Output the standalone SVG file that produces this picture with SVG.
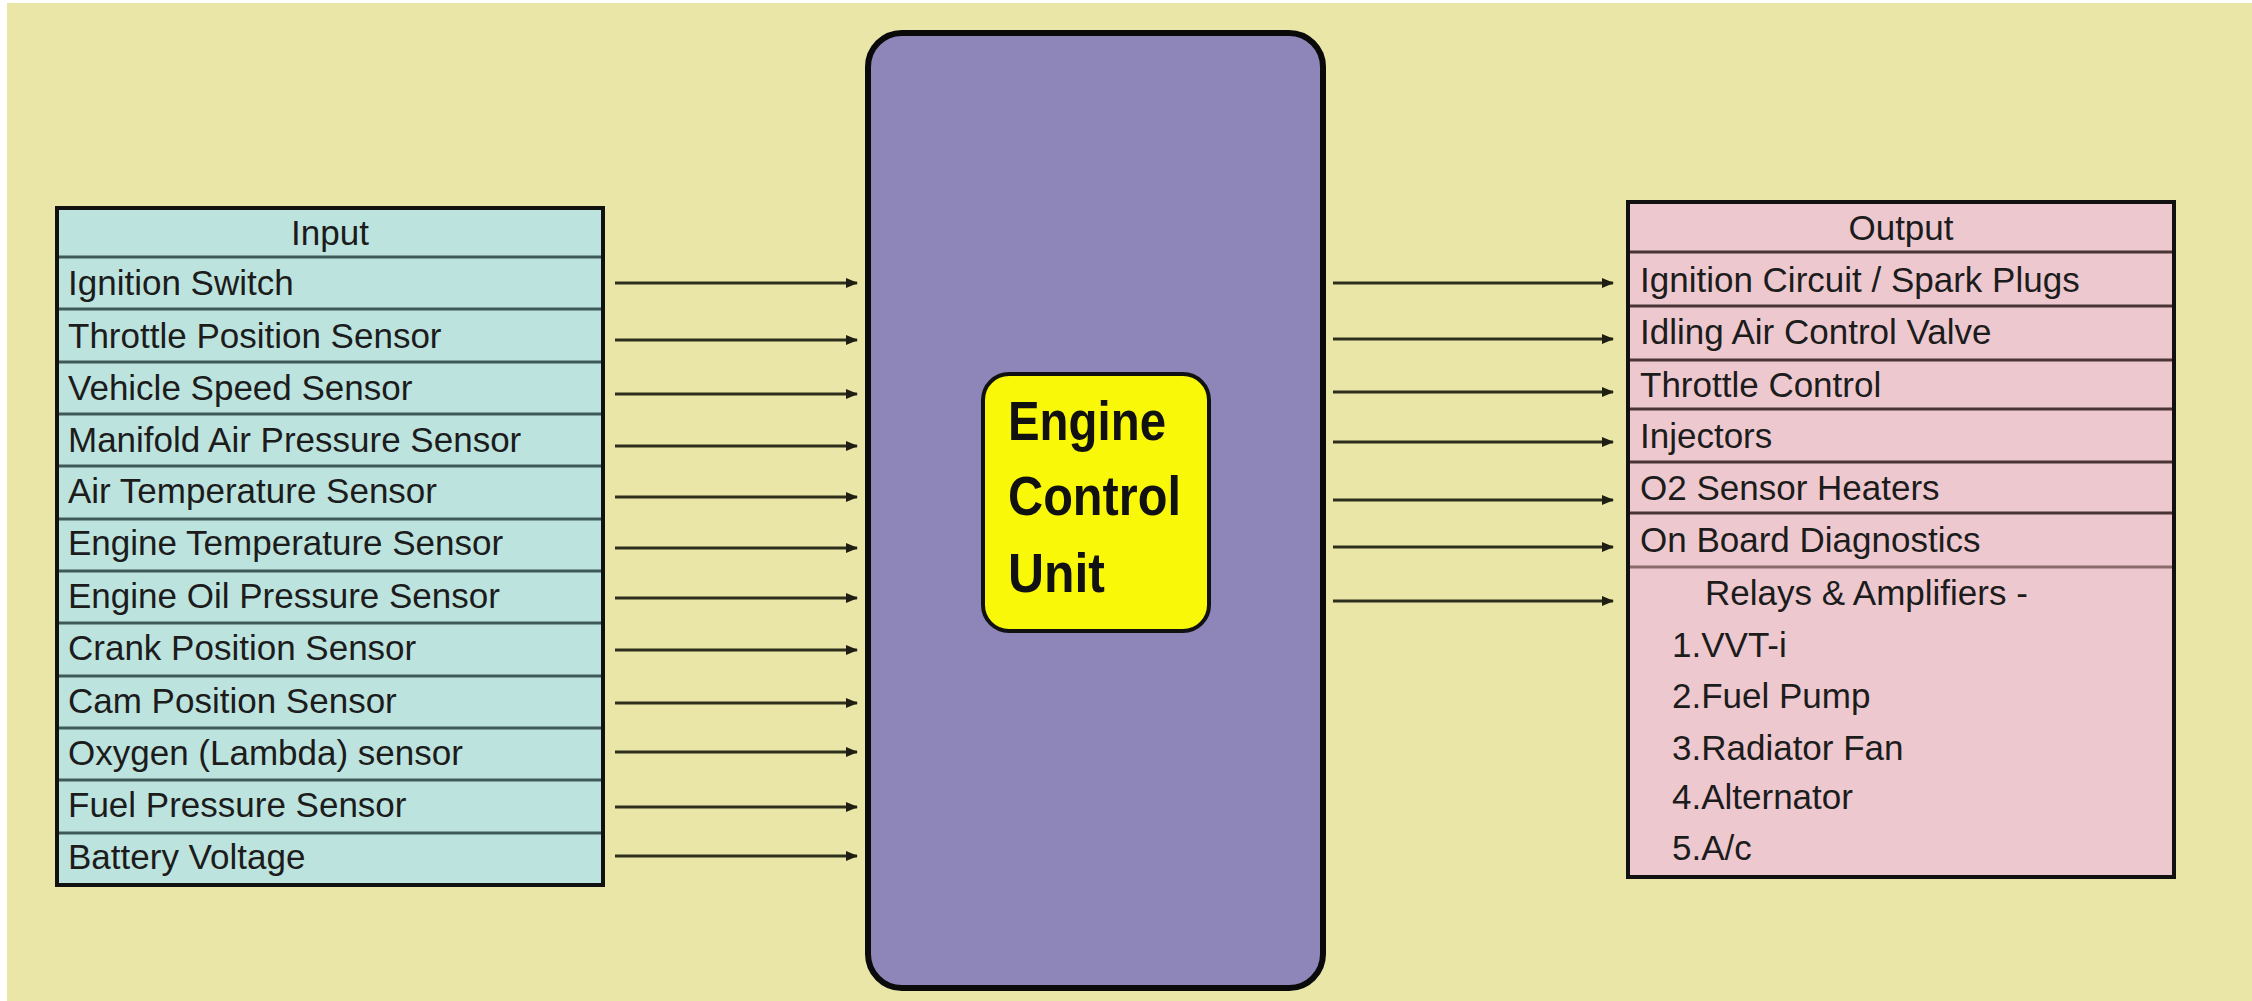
<svg xmlns="http://www.w3.org/2000/svg" width="2252" height="1001" viewBox="0 0 2252 1001">
  <style>
    .lbl { font-family: "Liberation Sans", Arial, sans-serif; font-size: 35px; fill: #1c1c1c; }
    .hdr { text-anchor: middle; }
    .ecu { font-family: "Liberation Sans", Arial, sans-serif; font-size: 55px; font-weight: bold; fill: #111; }
    .indiv { stroke: #3E5A58; stroke-width: 3; }
    .outdiv { stroke: #4A3434; stroke-width: 3; }
    .conn { stroke: #2E2E1C; stroke-width: 3; fill: none; marker-end: url(#arr); }
  </style>
  <defs>
    <marker id="arr" markerUnits="userSpaceOnUse" markerWidth="12" markerHeight="10" refX="11" refY="5" orient="auto">
      <path d="M0,0 L12,5 L0,10 z" fill="#1E1E12"/>
    </marker>
  </defs>

  <rect x="0" y="0" width="2252" height="1001" fill="#FFFFFF"/>
  <rect x="7" y="3" width="2245" height="998" fill="#E9E6A8"/>

  <g id="input">
    <rect x="57" y="208" width="546" height="677" fill="#BDE3DE" stroke="#111" stroke-width="4"/>
    <g class="indiv">
      <line x1="59" y1="257" x2="601" y2="257"/>
      <line x1="59" y1="309" x2="601" y2="309"/>
      <line x1="59" y1="362" x2="601" y2="362"/>
      <line x1="59" y1="414" x2="601" y2="414"/>
      <line x1="59" y1="466" x2="601" y2="466"/>
      <line x1="59" y1="519" x2="601" y2="519"/>
      <line x1="59" y1="571" x2="601" y2="571"/>
      <line x1="59" y1="623" x2="601" y2="623"/>
      <line x1="59" y1="676" x2="601" y2="676"/>
      <line x1="59" y1="728" x2="601" y2="728"/>
      <line x1="59" y1="780" x2="601" y2="780"/>
      <line x1="59" y1="833" x2="601" y2="833"/>
    </g>
    <text class="lbl hdr" x="330" y="245">Input</text>
    <text class="lbl" x="68" y="295">Ignition Switch</text>
    <text class="lbl" x="68" y="348">Throttle Position Sensor</text>
    <text class="lbl" x="68" y="400">Vehicle Speed Sensor</text>
    <text class="lbl" x="68" y="452">Manifold Air Pressure Sensor</text>
    <text class="lbl" x="68" y="503">Air Temperature Sensor</text>
    <text class="lbl" x="68" y="555">Engine Temperature Sensor</text>
    <text class="lbl" x="68" y="608">Engine Oil Pressure Sensor</text>
    <text class="lbl" x="68" y="660">Crank Position Sensor</text>
    <text class="lbl" x="68" y="713">Cam Position Sensor</text>
    <text class="lbl" x="68" y="765">Oxygen (Lambda) sensor</text>
    <text class="lbl" x="68" y="817">Fuel Pressure Sensor</text>
    <text class="lbl" x="68" y="869">Battery Voltage</text>
  </g>

  <g id="ecu">
    <rect x="868" y="33" width="455" height="955" rx="34" ry="34" fill="#8E86B8" stroke="#0A0A0A" stroke-width="6"/>
  </g>

  <g id="ecu-label">
    <rect x="983" y="374" width="226" height="257" rx="26" ry="26" fill="#F8F808" stroke="#111" stroke-width="4"/>
    <text class="ecu" x="1008" y="440" textLength="158" lengthAdjust="spacingAndGlyphs">Engine</text>
    <text class="ecu" x="1008" y="515" textLength="173" lengthAdjust="spacingAndGlyphs">Control</text>
    <text class="ecu" x="1008" y="592" textLength="97" lengthAdjust="spacingAndGlyphs">Unit</text>
  </g>

  <g id="output">
    <rect x="1628" y="202" width="546" height="675" fill="#EDC9CF" stroke="#111" stroke-width="4"/>
    <g class="outdiv">
      <line x1="1630" y1="252" x2="2172" y2="252"/>
      <line x1="1630" y1="306" x2="2172" y2="306"/>
      <line x1="1630" y1="360" x2="2172" y2="360"/>
      <line x1="1630" y1="409" x2="2172" y2="409"/>
      <line x1="1630" y1="462" x2="2172" y2="462"/>
      <line x1="1630" y1="513" x2="2172" y2="513"/>
      <line x1="1630" y1="567" x2="2172" y2="567" stroke="#8A6A6A"/>
    </g>
    <text class="lbl hdr" x="1901" y="240">Output</text>
    <text class="lbl" x="1640" y="292">Ignition Circuit / Spark Plugs</text>
    <text class="lbl" x="1640" y="344">Idling Air Control Valve</text>
    <text class="lbl" x="1640" y="397">Throttle Control</text>
    <text class="lbl" x="1640" y="448">Injectors</text>
    <text class="lbl" x="1640" y="500">O2 Sensor Heaters</text>
    <text class="lbl" x="1640" y="552">On Board Diagnostics</text>
    <text class="lbl" x="1705" y="605">Relays &amp; Amplifiers -</text>
    <text class="lbl" x="1672" y="657">1.VVT-i</text>
    <text class="lbl" x="1672" y="708">2.Fuel Pump</text>
    <text class="lbl" x="1672" y="760">3.Radiator Fan</text>
    <text class="lbl" x="1672" y="809">4.Alternator</text>
    <text class="lbl" x="1672" y="860">5.A/c</text>
  </g>

  <g id="connectors">
    <line class="conn" x1="615" y1="283" x2="857" y2="283"/>
    <line class="conn" x1="615" y1="340" x2="857" y2="340"/>
    <line class="conn" x1="615" y1="394" x2="857" y2="394"/>
    <line class="conn" x1="615" y1="446" x2="857" y2="446"/>
    <line class="conn" x1="615" y1="497" x2="857" y2="497"/>
    <line class="conn" x1="615" y1="548" x2="857" y2="548"/>
    <line class="conn" x1="615" y1="598" x2="857" y2="598"/>
    <line class="conn" x1="615" y1="650" x2="857" y2="650"/>
    <line class="conn" x1="615" y1="703" x2="857" y2="703"/>
    <line class="conn" x1="615" y1="752" x2="857" y2="752"/>
    <line class="conn" x1="615" y1="807" x2="857" y2="807"/>
    <line class="conn" x1="615" y1="856" x2="857" y2="856"/>

    <line class="conn" x1="1333" y1="283" x2="1613" y2="283"/>
    <line class="conn" x1="1333" y1="339" x2="1613" y2="339"/>
    <line class="conn" x1="1333" y1="392" x2="1613" y2="392"/>
    <line class="conn" x1="1333" y1="442" x2="1613" y2="442"/>
    <line class="conn" x1="1333" y1="500" x2="1613" y2="500"/>
    <line class="conn" x1="1333" y1="547" x2="1613" y2="547"/>
    <line class="conn" x1="1333" y1="601" x2="1613" y2="601"/>
  </g>
</svg>
